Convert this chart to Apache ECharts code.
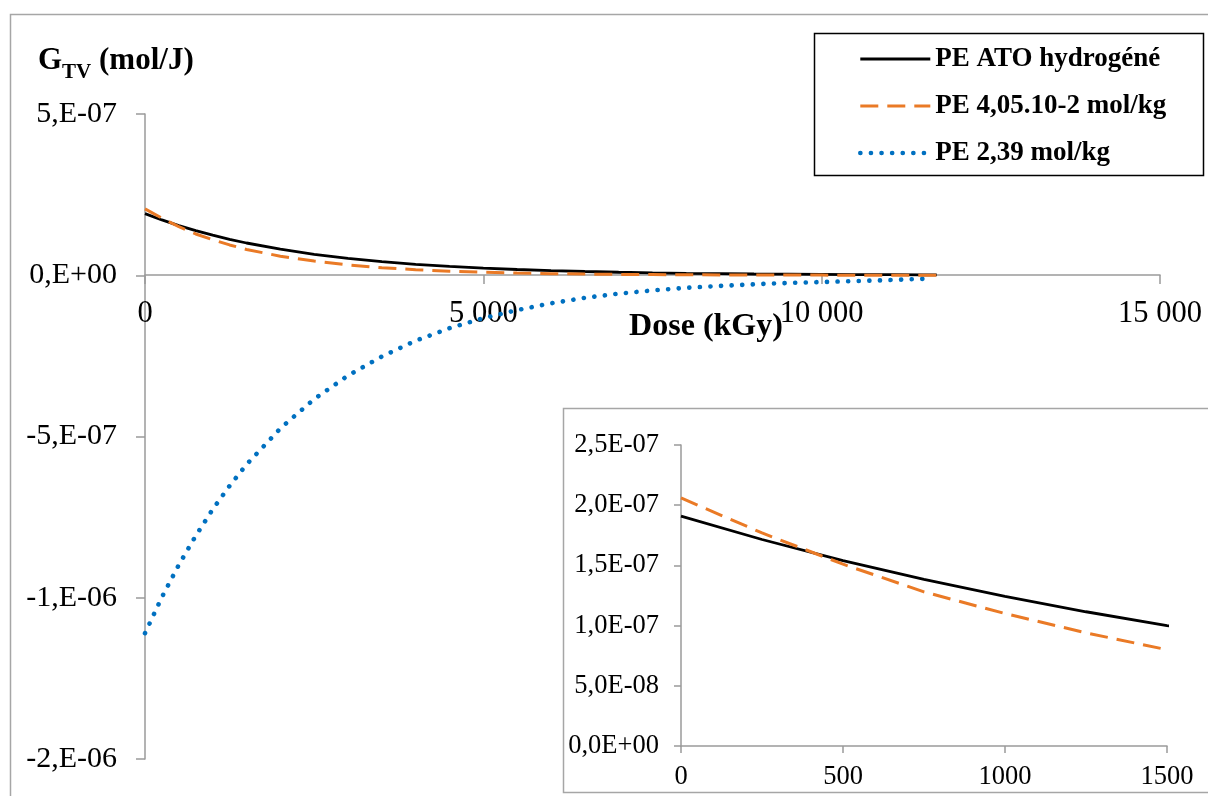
<!DOCTYPE html>
<html>
<head>
<meta charset="utf-8">
<script src="https://cdn.jsdelivr.net/npm/echarts@6/dist/echarts.min.js"></script>
<style>
html,body{margin:0;padding:0;background:#fff;}
#chart{width:1208px;height:796px;}
</style>
</head>
<body>
<div id="chart"></div>
<script>
// ---- Data ----
const seriesNames = ['PE ATO hydrogéné', 'PE 4,05.10-2 mol/kg', 'PE 2,39 mol/kg'];

const dosesLines = [0, 250, 500, 750, 1000, 1250, 1500, 2000, 2500, 3000, 3500, 4000, 4500, 5000, 5500, 6000, 6500, 7000, 7500, 8000, 8500, 9000, 9500, 10000, 10500, 11000, 11500, 11700];
const gAto = [1.91e-7, 1.715e-7, 1.54e-7, 1.383e-7, 1.242e-7, 1.115e-7, 1.0e-7, 8.07e-8, 6.5e-8, 5.24e-8, 4.22e-8, 3.4e-8, 2.74e-8, 2.21e-8, 1.78e-8, 1.43e-8, 1.16e-8, 9.3e-9, 7.5e-9, 6.0e-9, 4.9e-9, 3.9e-9, 3.2e-9, 2.6e-9, 2.1e-9, 1.7e-9, 1.3e-9, 1.2e-9];
const gPe405 = [2.06e-7, 1.77e-7, 1.51e-7, 1.28e-7, 1.10e-7, 9.4e-8, 8.0e-8, 5.9e-8, 4.4e-8, 3.2e-8, 2.35e-8, 1.72e-8, 1.26e-8, 9.2e-9, 6.8e-9, 5.0e-9, 3.6e-9, 2.7e-9, 2.0e-9, 1.4e-9, 1.0e-9, 8e-10, 6e-10, 4e-10, 3e-10, 2e-10, 2e-10, 1e-10];

const dosesBlue = [0, 250, 500, 750, 1000, 1250, 1500, 2000, 2500, 3000, 3500, 4000, 4500, 5000, 5500, 6000, 6500, 7000, 7500, 8000, 8500, 9000, 9500, 10000, 10500, 11000, 11500];
const gPe239 = [-1.11e-6, -9.98e-7, -8.98e-7, -8.08e-7, -7.26e-7, -6.53e-7, -5.87e-7, -4.75e-7, -3.84e-7, -3.11e-7, -2.52e-7, -2.03e-7, -1.64e-7, -1.33e-7, -1.08e-7, -8.7e-8, -7.0e-8, -5.7e-8, -4.7e-8, -3.9e-8, -3.3e-8, -2.8e-8, -2.4e-8, -2.1e-8, -1.8e-8, -1.5e-8, -1.1e-8];

const mainXLabels = ['0', '5 000', '10 000', '15 000'];
const mainYLabels = ['-2,E-06', '-1,E-06', '-5,E-07', '0,E+00', '5,E-07'];
const insetXLabels = ['0', '500', '1000', '1500'];
const insetYLabels = ['0,0E+00', '5,0E-08', '1,0E-07', '1,5E-07', '2,0E-07', '2,5E-07'];

// ---- Chart ----
const FONT = 'Liberation Serif';
const AXIS_COLOR = '#9a9a9a';
const pairs = (xs, ys) => xs.map((x, i) => [x, ys[i]]);

const styles = [
  { color: '#000000', width: 2.8, type: 'solid', cap: 'butt' },
  { color: '#EA7A26', width: 3, type: [18, 9], cap: 'butt' },
  { color: '#0070C0', width: 4.6, type: [0.1, 10.5], cap: 'round' }
];

const chart = echarts.init(document.getElementById('chart'), null, { renderer: 'canvas' });

const gridBase = { containLabel: false, outerBoundsMode: 'none' };

const option = {
  animation: false,
  backgroundColor: '#ffffff',
  title: {
    left: 38, top: 45, padding: 0,
    text: '{g|G}{s|TV}{g| (mol/J)}',
    textStyle: {
      rich: {
        g: { fontFamily: FONT, fontWeight: 'bold', fontSize: 31, color: '#000', verticalAlign: 'top', lineHeight: 32 },
        s: { fontFamily: FONT, fontWeight: 'bold', fontSize: 21, color: '#000', verticalAlign: 'bottom', lineHeight: 38 }
      }
    }
  },
  graphic: [
    { type: 'rect', z: -10, shape: { x: 10.5, y: 14.5, width: 1300, height: 900 }, style: { fill: 'none', stroke: '#a6a6a6', lineWidth: 1.5 } },
    { type: 'rect', z: -5, shape: { x: 563.5, y: 408.5, width: 700, height: 384 }, style: { fill: '#fff', stroke: '#a6a6a6', lineWidth: 1.5 } },
    { type: 'rect', z: -5, shape: { x: 814.5, y: 33.5, width: 389, height: 142 }, style: { fill: '#fff', stroke: '#000', lineWidth: 1.5 } }
  ],
  legend: {
    left: 858, top: 44, orient: 'vertical', padding: 0,
    itemWidth: 70, itemHeight: 30, itemGap: 17, itemTextGap: 4,
    itemStyle: { opacity: 0, borderWidth: 0 },
    data: seriesNames.map((n, i) => ({ name: n, itemStyle: { opacity: 0, borderWidth: 0 }, lineStyle: { color: styles[i].color, width: styles[i].width, type: styles[i].type, cap: styles[i].cap } })),
    textStyle: { fontFamily: FONT, fontWeight: 'bold', fontSize: 27, color: '#000', lineHeight: 30 }
  },
  grid: [
    Object.assign({ left: 145, right: 48, top: 114, bottom: 37 }, gridBase),
    Object.assign({ left: 681, right: 41, top: 445, bottom: 50 }, gridBase),
    Object.assign({ left: 145, right: 48, top: 114, height: 161 }, gridBase)
  ],
  xAxis: [
    { type: 'value', gridIndex: 0, min: 0, max: 15000, interval: 5000, show: false },
    {
      type: 'value', gridIndex: 1, min: 0, max: 1500, interval: 500,
      axisLine: { onZero: false, lineStyle: { color: AXIS_COLOR, width: 1.5 } },
      axisTick: { show: true, inside: false, length: 7, lineStyle: { color: AXIS_COLOR, width: 1.5 } },
      splitLine: { show: false },
      axisLabel: { margin: 18, fontFamily: FONT, fontSize: 26.5, color: '#000', formatter: (v, i) => insetXLabels[i] }
    },
    {
      type: 'value', gridIndex: 2, min: 0, max: 15000, interval: 5000,
      axisLine: { onZero: false, lineStyle: { color: AXIS_COLOR, width: 1.5 } },
      axisTick: { show: true, inside: false, length: 9, lineStyle: { color: AXIS_COLOR, width: 1.5 } },
      splitLine: { show: false },
      axisLabel: { margin: 23, fontFamily: FONT, fontSize: 30.5, color: '#000', formatter: (v, i) => mainXLabels[i] },
      name: 'Dose (kGy)', nameLocation: 'middle', nameGap: 36, nameMoveOverlap: false,
      nameTextStyle: { fontFamily: FONT, fontWeight: 'bold', fontSize: 32, color: '#000', padding: [0, 0, 0, 107] }
    }
  ],
  yAxis: [
    {
      type: 'value', gridIndex: 0, min: -1.5e-6, max: 5e-7, interval: 5e-7,
      axisLine: { show: true, onZero: false, lineStyle: { color: AXIS_COLOR, width: 1.5 } },
      axisTick: { show: true, inside: false, length: 9, lineStyle: { color: AXIS_COLOR, width: 1.5 } },
      splitLine: { show: false },
      axisLabel: { margin: 28, fontFamily: FONT, fontSize: 30, color: '#000', formatter: (v, i) => mainYLabels[i] }
    },
    {
      type: 'value', gridIndex: 1, min: 0, max: 2.5e-7, interval: 5e-8,
      axisLine: { show: true, onZero: false, lineStyle: { color: AXIS_COLOR, width: 1.5 } },
      axisTick: { show: true, inside: false, length: 7, lineStyle: { color: AXIS_COLOR, width: 1.5 } },
      splitLine: { show: false },
      axisLabel: { margin: 22, fontFamily: FONT, fontSize: 26.5, color: '#000', formatter: (v, i) => insetYLabels[i] }
    },
    { type: 'value', gridIndex: 2, min: 0, max: 1, show: false }
  ],
  series: [
    { name: seriesNames[2], type: 'line', xAxisIndex: 0, yAxisIndex: 0, data: pairs(dosesBlue, gPe239), symbol: 'none', lineStyle: styles[2], itemStyle: { color: styles[2].color }, z: 3 },
    { name: seriesNames[0], type: 'line', xAxisIndex: 0, yAxisIndex: 0, data: pairs(dosesLines, gAto), symbol: 'none', lineStyle: styles[0], itemStyle: { color: styles[0].color }, z: 4 },
    { name: seriesNames[1], type: 'line', xAxisIndex: 0, yAxisIndex: 0, data: pairs(dosesLines, gPe405), symbol: 'none', lineStyle: styles[1], itemStyle: { color: styles[1].color }, z: 5 },
    { name: seriesNames[0], type: 'line', xAxisIndex: 1, yAxisIndex: 1, data: pairs(dosesLines, gAto), symbol: 'none', clip: true, lineStyle: styles[0], itemStyle: { color: styles[0].color }, z: 4 },
    { name: seriesNames[1], type: 'line', xAxisIndex: 1, yAxisIndex: 1, data: pairs(dosesLines, gPe405), symbol: 'none', clip: true, lineStyle: styles[1], itemStyle: { color: styles[1].color }, z: 5 }
  ]
};
chart.setOption(option);
</script>
</body>
</html>
